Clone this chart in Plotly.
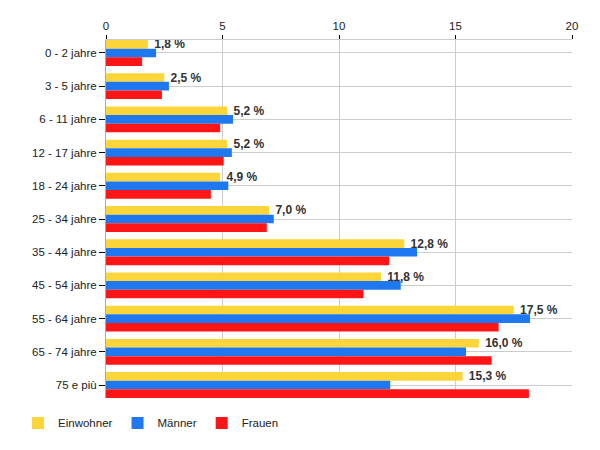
import plotly.graph_objects as go

categories = ["0 - 2 jahre", "3 - 5 jahre", "6 - 11 jahre", "12 - 17 jahre", "18 - 24 jahre",
              "25 - 34 jahre", "35 - 44 jahre", "45 - 54 jahre", "55 - 64 jahre",
              "65 - 74 jahre", "75 e più"]
einwohner = [1.8, 2.5, 5.2, 5.2, 4.9, 7.0, 12.8, 11.8, 17.5, 16.0, 15.3]
maenner = [2.15, 2.7, 5.45, 5.4, 5.25, 7.2, 13.35, 12.65, 18.2, 15.45, 12.2]
frauen = [1.55, 2.4, 4.9, 5.05, 4.5, 6.9, 12.15, 11.05, 16.85, 16.55, 18.15]
einwohner_labels = ["1,8 %", "2,5 %", "5,2 %", "5,2 %", "4,9 %", "7,0 %",
                    "12,8 %", "11,8 %", "17,5 %", "16,0 %", "15,3 %"]
x_ticks = [0, 5, 10, 15, 20]

FONT = "Liberation Sans, Arial, sans-serif"

fig = go.Figure()
fig.add_trace(go.Bar(
    y=categories, x=einwohner, name="Einwohner", orientation="h",
    marker=dict(color="#FCD53B", line=dict(width=0)),
    text=["\u00a0" + t for t in einwohner_labels], textposition="outside",
    textfont=dict(family=FONT, size=12, color="#333333", weight="bold"),
    constraintext="none", cliponaxis=False,
))
fig.add_trace(go.Bar(
    y=categories, x=maenner, name="Männer", orientation="h",
    marker=dict(color="#1F78EF", line=dict(width=0)),
))
fig.add_trace(go.Bar(
    y=categories, x=frauen, name="Frauen", orientation="h",
    marker=dict(color="#FE1616", line=dict(width=0)),
))

fig.update_layout(
    width=600, height=450,
    margin=dict(l=98, r=36, t=32, b=60, autoexpand=False),
    paper_bgcolor="white", plot_bgcolor="white",
    barmode="group", bargap=0.22, bargroupgap=0,
    font=dict(family=FONT, size=11.5, color="#222222"),
    showlegend=True,
    legend=dict(orientation="h", xref="container", yref="container",
                x=0.0167, xanchor="left", y=0.0778, yanchor="middle",
                font=dict(family=FONT, size=11.5, color="#222222"),
                traceorder="normal", itemwidth=30),
    xaxis=dict(side="top", range=[0, 20], tickvals=x_ticks, ticktext=[str(v) for v in x_ticks],
               showgrid=True, gridcolor="#cccccc", gridwidth=1,
               showline=True, linecolor="#cccccc", linewidth=1,
               ticks="outside", ticklen=4, tickcolor="#000000",
               zeroline=False, fixedrange=True, automargin=False),
    yaxis=dict(type="category", categoryorder="array", categoryarray=categories,
               range=[10.39, -0.39],
               showgrid=True, gridcolor="#cccccc", gridwidth=1,
               showline=True, linecolor="#aaaaaa", linewidth=1,
               ticks="outside", ticklen=6, tickcolor="#000000",
               zeroline=False, fixedrange=True, automargin=False),
)

fig.write_html("out.html")
